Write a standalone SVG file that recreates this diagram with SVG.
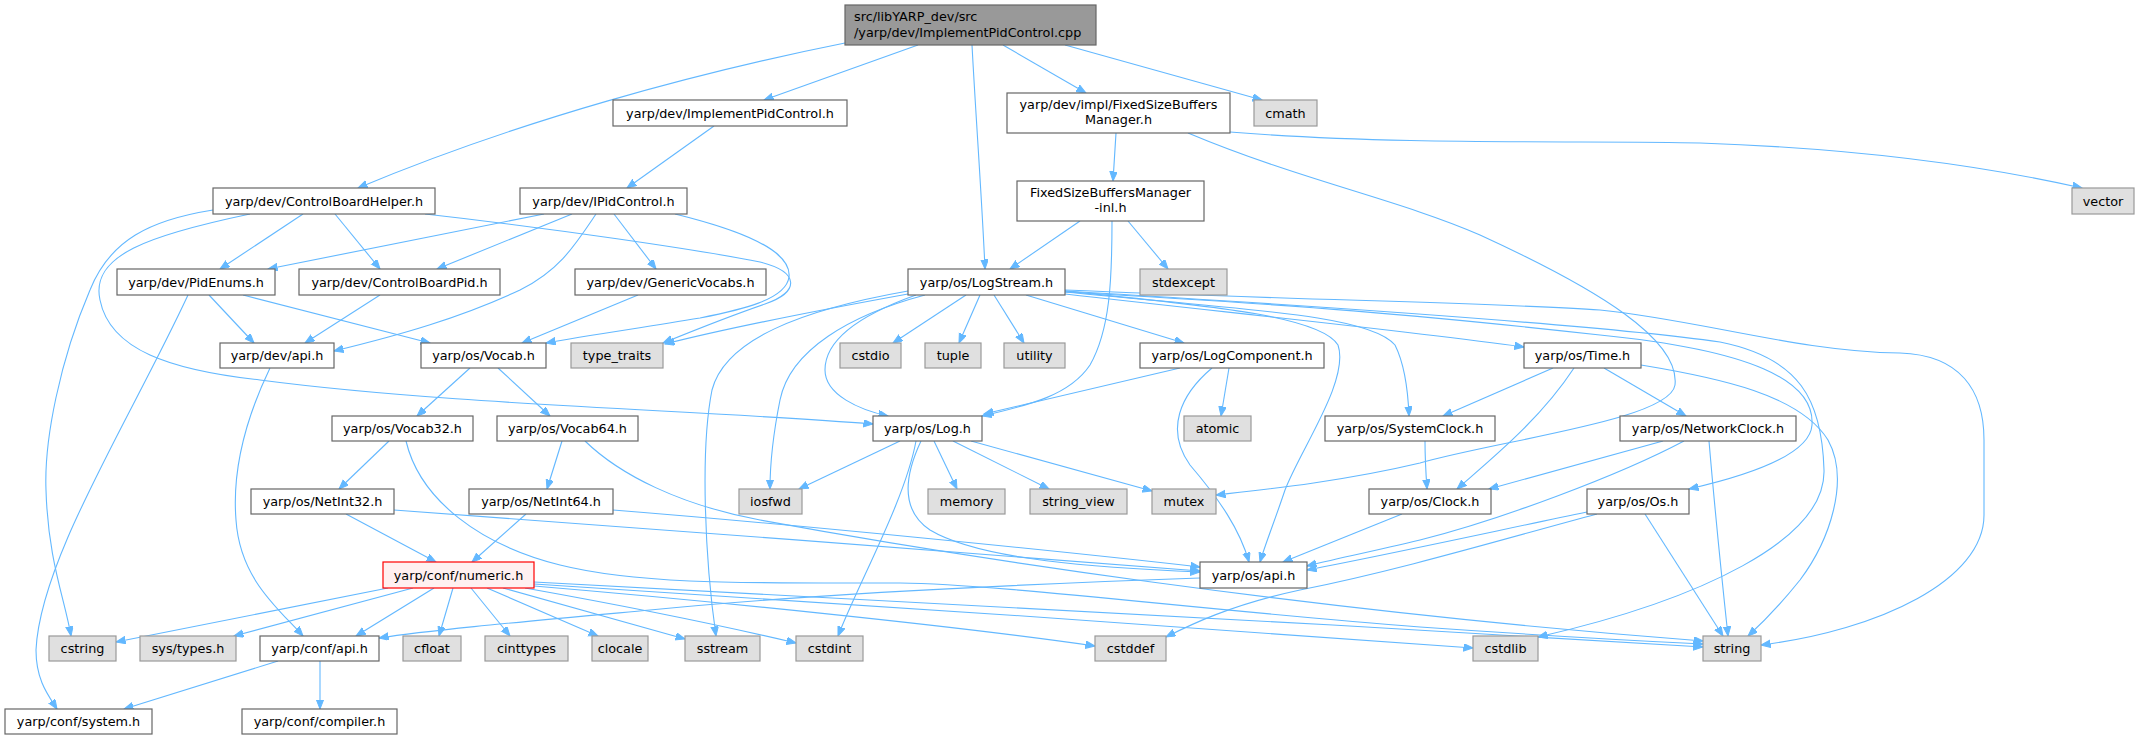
<svg xmlns="http://www.w3.org/2000/svg" width="2146" height="740" viewBox="0 0 2146 740">
<defs>
<style>
rect{stroke-width:1.2}
.n rect{fill:#ffffff;stroke:#666666}
.x rect{fill:#E0E0E0;stroke:#999999}
.m rect{fill:#999999;stroke:#666666}
.r rect{fill:#FFF0F0;stroke:#FF0000}
text{font-family:"DejaVu Sans","Liberation Sans",sans-serif;font-size:12.8px;fill:#000;text-anchor:middle}
.l text{text-anchor:start}
#edges path{fill:none;stroke:#63B8FF;stroke-width:1.1;marker-end:url(#a)}
</style>
<marker id="a" markerWidth="11" markerHeight="9" refX="9.5" refY="3.75" orient="auto" markerUnits="userSpaceOnUse">
<path d="M0,0 L9.5,3.75 L0,7.5 z" fill="#63B8FF" stroke="#63B8FF" stroke-width="1"/>
</marker>
</defs>
<rect width="2146" height="740" fill="#ffffff"/>
<g id="edges">
<path d="M845,43 C700,72 520,120 358,188"/>
<path d="M918,45 L764,100"/>
<path d="M972,45 C976,120 982,200 985,269"/>
<path d="M1003,45 L1086,93"/>
<path d="M1065,45 L1262,100"/>
<path d="M714,126 L627,188"/>
<path d="M1116,133 L1113,181"/>
<path d="M1230,132 C1400,146 1600,140 1700,143 C1850,148 1980,165 2082,188"/>
<path d="M1188,133 C1300,180 1400,200 1480,235 C1600,290 1680,340 1675,385 C1670,420 1500,440 1420,463 C1340,482 1260,490 1216,495"/>
<path d="M1080,221 L1010,269"/>
<path d="M1112,221 C1112,280 1110,330 1090,365 C1070,395 1030,405 982,416"/>
<path d="M1128,221 L1168,269"/>
<path d="M303,214 L220,269"/>
<path d="M335,214 L380,269"/>
<path d="M213,210 C150,220 110,240 90,290 C60,360 44,440 46,490 C48,560 65,600 71,636"/>
<path d="M250,214 C150,235 90,255 100,300 C110,350 170,370 260,380 C450,405 700,410 873,424"/>
<path d="M425,214 C550,228 700,250 760,262 C800,272 800,292 765,304 C730,316 690,332 663,343"/>
<path d="M544,214 L268,269"/>
<path d="M572,214 L437,269"/>
<path d="M596,214 C575,245 560,270 520,290 C460,318 400,335 334,351"/>
<path d="M614,214 L656,269"/>
<path d="M675,214 C740,230 792,250 789,277 C786,300 740,310 700,318 C640,328 590,335 546,343"/>
<path d="M209,295 L254,343"/>
<path d="M243,295 L430,343"/>
<path d="M188,295 C130,420 40,560 36,650 C36,680 48,695 57,709"/>
<path d="M380,295 L305,343"/>
<path d="M638,295 L522,343"/>
<path d="M270,368 C245,420 232,470 236,520 C240,580 280,610 303,636"/>
<path d="M470,368 L417,416"/>
<path d="M498,368 L550,416"/>
<path d="M389,441 L339,489"/>
<path d="M406,441 C420,500 480,545 560,565 C640,585 750,583 900,583 C1000,584 1200,610 1420,627 C1520,634 1620,640 1703,644"/>
<path d="M562,441 L547,489"/>
<path d="M585,441 C620,475 680,505 760,520 C950,555 1300,610 1703,641"/>
<path d="M346,514 L436,562"/>
<path d="M394,510 C600,525 1000,555 1200,571"/>
<path d="M526,514 L472,562"/>
<path d="M613,510 C800,525 1050,550 1200,567"/>
<path d="M388,588 L116,642"/>
<path d="M413,588 L234,636"/>
<path d="M434,588 L356,636"/>
<path d="M453,588 L439,636"/>
<path d="M471,588 L510,636"/>
<path d="M487,588 L598,636"/>
<path d="M503,588 L685,639"/>
<path d="M525,588 C620,605 720,625 796,643"/>
<path d="M534,586 C700,600 950,625 1095,646"/>
<path d="M534,584 C800,600 1200,628 1473,648"/>
<path d="M534,582 C800,595 1300,622 1703,647"/>
<path d="M278,661 L124,709"/>
<path d="M320,661 L320,709"/>
<path d="M1200,578 C1000,585 800,595 650,610 C520,622 430,630 379,638"/>
<path d="M966,295 L893,343"/>
<path d="M980,295 L959,343"/>
<path d="M994,295 L1024,343"/>
<path d="M1026,295 L1184,343"/>
<path d="M916,295 C860,315 825,340 825,370 C825,395 860,410 888,416"/>
<path d="M925,295 C850,315 790,350 780,400 C772,440 770,465 770,489"/>
<path d="M908,291 C800,310 725,340 712,390 C700,450 705,560 716,636"/>
<path d="M908,294 C820,310 720,330 665,344"/>
<path d="M1065,291 C1200,305 1320,315 1338,345 C1350,380 1300,450 1285,490 C1275,520 1265,545 1260,562"/>
<path d="M1065,292 C1250,310 1370,315 1395,345 C1405,365 1408,390 1409,416"/>
<path d="M1065,294 C1250,315 1400,330 1524,347"/>
<path d="M1065,292 C1300,305 1420,315 1600,335 C1750,350 1815,380 1812,425 C1810,455 1750,475 1689,489"/>
<path d="M1065,291 C1300,305 1600,325 1720,342 C1800,358 1822,400 1824,470 C1826,540 1700,600 1538,637"/>
<path d="M1065,290 C1300,300 1500,303 1600,310 C1700,320 1800,352 1900,353 C1960,355 1984,390 1984,440 L1984,515 C1984,580 1880,630 1761,645"/>
<path d="M1553,368 L1443,416"/>
<path d="M1574,368 C1540,420 1490,460 1457,489"/>
<path d="M1604,368 L1686,416"/>
<path d="M1641,365 C1720,378 1800,395 1828,440 C1850,480 1830,540 1800,580 C1780,605 1760,625 1748,636"/>
<path d="M1425,441 C1425,460 1426,475 1427,489"/>
<path d="M1663,441 L1489,489"/>
<path d="M1684,441 C1620,475 1500,520 1420,540 C1370,552 1330,560 1307,566"/>
<path d="M1709,441 C1714,500 1722,580 1728,636"/>
<path d="M1402,514 L1283,562"/>
<path d="M1587,512 C1500,530 1400,552 1307,570"/>
<path d="M1597,514 C1500,540 1400,570 1300,590 C1230,605 1190,625 1166,637"/>
<path d="M1645,514 L1723,636"/>
<path d="M1180,368 L984,414"/>
<path d="M1229,368 L1221,416"/>
<path d="M1212,368 C1180,395 1165,430 1190,465 C1220,500 1240,530 1249,562"/>
<path d="M900,441 L799,489"/>
<path d="M934,441 L957,489"/>
<path d="M953,441 L1049,489"/>
<path d="M971,441 L1152,491"/>
<path d="M921,441 C905,475 900,510 930,530 C980,560 1100,568 1200,572"/>
<path d="M916,441 C905,500 860,580 838,636"/>
</g>
<g id="n_main" class="m l"><rect x="845" y="5" width="251" height="40"/><text x="854" y="20.5">src/libYARP_dev/src</text><text x="854" y="37">/yarp/dev/ImplementPidControl.cpp</text></g>
<g id="n_impl" class="n"><rect x="613" y="100" width="234" height="26"/><text x="730" y="117.5">yarp/dev/ImplementPidControl.h</text></g>
<g id="n_fsbm" class="n"><rect x="1007" y="93" width="223" height="40"/><text x="1118.5" y="108.8">yarp/dev/impl/FixedSizeBuffers</text><text x="1118.5" y="123.5">Manager.h</text></g>
<g id="n_cmath" class="x"><rect x="1254" y="100" width="63" height="26"/><text x="1285.5" y="117.5">cmath</text></g>
<g id="n_cbh" class="n"><rect x="213" y="188" width="222" height="26"/><text x="324" y="205.5">yarp/dev/ControlBoardHelper.h</text></g>
<g id="n_ipid" class="n"><rect x="520" y="188" width="167" height="26"/><text x="603.5" y="205.5">yarp/dev/IPidControl.h</text></g>
<g id="n_fsbmi" class="n"><rect x="1017" y="181" width="187" height="40"/><text x="1110.5" y="197">FixedSizeBuffersManager</text><text x="1110.5" y="211.8">-inl.h</text></g>
<g id="n_vector" class="x"><rect x="2072" y="188" width="62" height="26"/><text x="2103" y="205.5">vector</text></g>
<g id="n_pidenums" class="n"><rect x="117" y="269" width="158" height="26"/><text x="196" y="286.5">yarp/dev/PidEnums.h</text></g>
<g id="n_cbpid" class="n"><rect x="299" y="269" width="201" height="26"/><text x="399.5" y="286.5">yarp/dev/ControlBoardPid.h</text></g>
<g id="n_genvoc" class="n"><rect x="575" y="269" width="191" height="26"/><text x="670.5" y="286.5">yarp/dev/GenericVocabs.h</text></g>
<g id="n_logstream" class="n"><rect x="908" y="269" width="157" height="26"/><text x="986.5" y="286.5">yarp/os/LogStream.h</text></g>
<g id="n_stdexcept" class="x"><rect x="1140" y="269" width="87" height="26"/><text x="1183.5" y="286.5">stdexcept</text></g>
<g id="n_devapi" class="n"><rect x="220" y="343" width="114" height="25"/><text x="277" y="360">yarp/dev/api.h</text></g>
<g id="n_vocab" class="n"><rect x="421" y="343" width="125" height="25"/><text x="483.5" y="360">yarp/os/Vocab.h</text></g>
<g id="n_typetraits" class="x"><rect x="571" y="343" width="92" height="25"/><text x="617" y="360">type_traits</text></g>
<g id="n_cstdio" class="x"><rect x="840" y="343" width="61" height="25"/><text x="870.5" y="360">cstdio</text></g>
<g id="n_tuple" class="x"><rect x="925" y="343" width="56" height="25"/><text x="953" y="360">tuple</text></g>
<g id="n_utility" class="x"><rect x="1004" y="343" width="61" height="25"/><text x="1034.5" y="360">utility</text></g>
<g id="n_logcomp" class="n"><rect x="1140" y="343" width="184" height="25"/><text x="1232" y="360">yarp/os/LogComponent.h</text></g>
<g id="n_time" class="n"><rect x="1524" y="343" width="117" height="25"/><text x="1582.5" y="360">yarp/os/Time.h</text></g>
<g id="n_vocab32" class="n"><rect x="332" y="416" width="141" height="25"/><text x="402.5" y="433">yarp/os/Vocab32.h</text></g>
<g id="n_vocab64" class="n"><rect x="497" y="416" width="141" height="25"/><text x="567.5" y="433">yarp/os/Vocab64.h</text></g>
<g id="n_log" class="n"><rect x="873" y="416" width="109" height="25"/><text x="927.5" y="433">yarp/os/Log.h</text></g>
<g id="n_atomic" class="x"><rect x="1184" y="416" width="67" height="25"/><text x="1217.5" y="433">atomic</text></g>
<g id="n_sysclock" class="n"><rect x="1325" y="416" width="170" height="25"/><text x="1410" y="433">yarp/os/SystemClock.h</text></g>
<g id="n_netclock" class="n"><rect x="1620" y="416" width="176" height="25"/><text x="1708" y="433">yarp/os/NetworkClock.h</text></g>
<g id="n_netint32" class="n"><rect x="251" y="489" width="143" height="25"/><text x="322.5" y="506">yarp/os/NetInt32.h</text></g>
<g id="n_netint64" class="n"><rect x="469" y="489" width="144" height="25"/><text x="541" y="506">yarp/os/NetInt64.h</text></g>
<g id="n_iosfwd" class="x"><rect x="739" y="489" width="63" height="25"/><text x="770.5" y="506">iosfwd</text></g>
<g id="n_memory" class="x"><rect x="928" y="489" width="77" height="25"/><text x="966.5" y="506">memory</text></g>
<g id="n_stringview" class="x"><rect x="1030" y="489" width="97" height="25"/><text x="1078.5" y="506">string_view</text></g>
<g id="n_mutex" class="x"><rect x="1152" y="489" width="64" height="25"/><text x="1184" y="506">mutex</text></g>
<g id="n_clock" class="n"><rect x="1369" y="489" width="122" height="25"/><text x="1430" y="506">yarp/os/Clock.h</text></g>
<g id="n_os" class="n"><rect x="1587" y="489" width="102" height="25"/><text x="1638" y="506">yarp/os/Os.h</text></g>
<g id="n_numeric" class="r"><rect x="383" y="562" width="151" height="26"/><text x="458.5" y="579.5">yarp/conf/numeric.h</text></g>
<g id="n_osapi" class="n"><rect x="1200" y="562" width="107" height="26"/><text x="1253.5" y="579.5">yarp/os/api.h</text></g>
<g id="n_cstring" class="x"><rect x="49" y="636" width="67" height="25"/><text x="82.5" y="653">cstring</text></g>
<g id="n_systypes" class="x"><rect x="140" y="636" width="96" height="25"/><text x="188" y="653">sys/types.h</text></g>
<g id="n_confapi" class="n"><rect x="260" y="636" width="119" height="25"/><text x="319.5" y="653">yarp/conf/api.h</text></g>
<g id="n_cfloat" class="x"><rect x="403" y="636" width="58" height="25"/><text x="432" y="653">cfloat</text></g>
<g id="n_cinttypes" class="x"><rect x="485" y="636" width="83" height="25"/><text x="526.5" y="653">cinttypes</text></g>
<g id="n_clocale" class="x"><rect x="592" y="636" width="56" height="25"/><text x="620" y="653">clocale</text></g>
<g id="n_sstream" class="x"><rect x="685" y="636" width="75" height="25"/><text x="722.5" y="653">sstream</text></g>
<g id="n_cstdint" class="x"><rect x="796" y="636" width="67" height="25"/><text x="829.5" y="653">cstdint</text></g>
<g id="n_cstddef" class="x"><rect x="1095" y="636" width="71" height="25"/><text x="1130.5" y="653">cstddef</text></g>
<g id="n_cstdlib" class="x"><rect x="1473" y="636" width="65" height="25"/><text x="1505.5" y="653">cstdlib</text></g>
<g id="n_string" class="x"><rect x="1703" y="636" width="58" height="25"/><text x="1732" y="653">string</text></g>
<g id="n_system" class="n"><rect x="5" y="709" width="147" height="25"/><text x="78.5" y="726">yarp/conf/system.h</text></g>
<g id="n_compiler" class="n"><rect x="242" y="709" width="155" height="25"/><text x="319.5" y="726">yarp/conf/compiler.h</text></g>
</svg>
